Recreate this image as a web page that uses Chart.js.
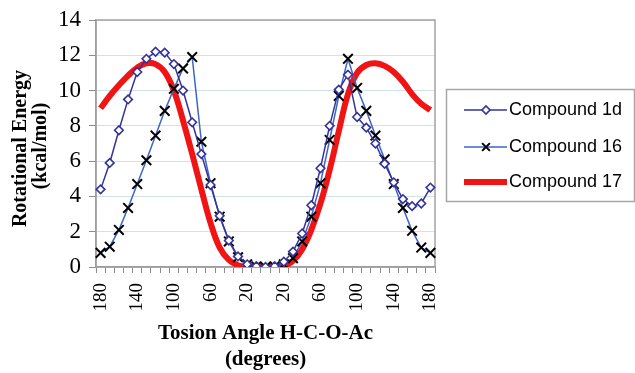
<!DOCTYPE html>
<html><head><meta charset="utf-8">
<script src="https://cdn.jsdelivr.net/npm/chart.js@4/dist/chart.umd.min.js"></script>
<style>html,body{margin:0;padding:0;background:#fff;overflow:hidden}canvas{display:block}</style>
</head><body>
<canvas id="c" width="635" height="373"></canvas>
<script>
// ---- data ----
const angles = [180,170,160,150,140,130,120,110,100,90,80,70,60,50,40,30,20,10,0,10,20,30,40,50,60,70,80,90,100,110,120,130,140,150,160,170,180];
const tickLabels = ['180','140','100','60','20','20','60','100','140','180'];
const tickEvery = 4;
const seriesNames = ['Compound 1d','Compound 16','Compound 17'];
const compound1d = [4.4,5.9,7.75,9.5,11.05,11.8,12.2,12.15,11.5,10.0,8.2,6.4,4.65,2.9,1.5,0.6,0.15,0.05,0.0,0.05,0.3,0.87,1.9,3.5,5.6,8.0,10.05,10.9,8.5,7.9,7.0,5.85,4.8,3.85,3.45,3.6,4.5];
const compound16 = [0.8,1.15,2.1,3.35,4.7,6.05,7.45,8.85,10.1,11.25,11.9,7.1,4.75,2.85,1.45,0.55,0.15,0.03,0.0,0.03,0.15,0.5,1.45,2.85,4.75,7.2,9.7,11.8,10.15,8.85,7.45,6.1,4.7,3.35,2.05,1.1,0.8];
const compound17 = [9.0,9.7,10.3,10.85,11.3,11.55,11.5,11.05,10.0,8.3,6.4,4.4,2.5,1.1,0.4,0.1,0.0,0.0,0.0,0.0,0.05,0.35,1.0,2.1,3.6,5.5,7.7,9.8,11.0,11.45,11.55,11.4,11.05,10.5,9.8,9.25,8.9];
const yMin = 0, yMax = 14, yStep = 2;

const serif = '"Liberation Serif","Times New Roman",serif';
const sans = '"Liberation Sans",Arial,sans-serif';

const framePlugin = {
  id: 'frame',
  beforeDatasetsDraw(chart) {
    const {ctx, chartArea: a} = chart;
    ctx.save();
    ctx.strokeStyle = '#a3a3a3';
    ctx.lineWidth = 1.5;
    ctx.strokeRect(a.left, a.top, a.right - a.left, a.bottom - a.top);
    ctx.restore();
  }
};

function marker(ctx, style, x, y, r, color, lw, fill) {
  ctx.save();
  ctx.beginPath();
  ctx.lineWidth = lw; ctx.strokeStyle = color;
  if (style === 'rectRot') {
    ctx.moveTo(x - r, y); ctx.lineTo(x, y - r); ctx.lineTo(x + r, y); ctx.lineTo(x, y + r); ctx.closePath();
    ctx.fillStyle = fill; ctx.fill(); ctx.stroke();
  } else if (style === 'crossRot') {
    const d = r * Math.SQRT1_2;
    ctx.moveTo(x - d, y - d); ctx.lineTo(x + d, y + d);
    ctx.moveTo(x + d, y - d); ctx.lineTo(x - d, y + d);
    ctx.stroke();
  }
  ctx.restore();
}

const legendPlugin = {
  id: 'boxLegend',
  afterDraw(chart) {
    const ctx = chart.ctx;
    ctx.save();
    ctx.strokeStyle = '#a8a8a8'; ctx.lineWidth = 1.5;
    ctx.strokeRect(446.5, 89.5, 188, 112);
    const rows = [110, 147, 182];
    chart.data.datasets.forEach((ds, i) => {
      const y = rows[i];
      ctx.beginPath();
      ctx.strokeStyle = ds.borderColor; ctx.lineWidth = ds.borderWidth; ctx.lineCap = 'butt';
      ctx.moveTo(464, y); ctx.lineTo(507, y); ctx.stroke();
      if (ds.pointRadius > 0) {
        marker(ctx, ds.pointStyle, 486, y, ds.pointStyle === 'crossRot' ? 5.5 : 4, ds.pointBorderColor, ds.pointBorderWidth, ds.pointBackgroundColor);
      }
      ctx.fillStyle = '#000';
      ctx.font = '18px ' + sans;
      ctx.textBaseline = 'middle'; ctx.textAlign = 'left';
      ctx.fillText(ds.label, 509, y);
    });
    ctx.restore();
  }
};

new Chart(document.getElementById('c'), {
  type: 'line',
  data: {
    labels: angles.map(String),
    datasets: [
      { label: seriesNames[0], data: compound1d, borderColor: '#33339a', borderWidth: 1.5,
        pointStyle: 'rectRot', pointRadius: 4.3, pointBackgroundColor: '#ffffff', pointBorderColor: '#33339a', pointBorderWidth: 1.6, tension: 0 },
      { label: seriesNames[1], data: compound16, borderColor: '#3d64c8', borderWidth: 1.5,
        pointStyle: 'crossRot', pointRadius: 6.8, pointBorderColor: '#000000', pointBackgroundColor: '#000000', pointBorderWidth: 2, tension: 0 },
      { label: seriesNames[2], data: compound17, borderColor: '#f01414', borderWidth: 6,
        pointRadius: 0, tension: 0.4 }
    ]
  },
  options: {
    responsive: false, animation: false, devicePixelRatio: 1,
    layout: { padding: { top: 20, right: 200, bottom: 0, left: 0 } },
    plugins: { legend: { display: false }, tooltip: { enabled: false } },
    scales: {
      x: {
        type: 'category', offset: true,
        grid: { offset: true, drawOnChartArea: false, drawTicks: true, tickLength: 6, tickColor: '#8c8c8c', tickWidth: 1 },
        border: { color: '#8c8c8c', width: 1.5 },
        ticks: { autoSkip: false, minRotation: 90, maxRotation: 90, padding: 10, color: '#000',
          font: { family: serif, size: 19 },
          callback: (v, i) => (i % tickEvery === 0 ? tickLabels[i / tickEvery] : '') },
        title: { display: true, text: ['Tosion Angle H-C-O-Ac', '(degrees)'], color: '#000',
          font: { family: serif, size: 21, weight: 'bold', lineHeight: 1.24 }, padding: { top: 0, bottom: 0 } },
        afterFit(s) { s.height = 106; s.paddingLeft = 0; s.paddingRight = 0; }
      },
      y: {
        min: yMin, max: yMax,
        ticks: { stepSize: yStep, padding: 8, color: '#000', font: { family: serif, size: 23 } },
        grid: { color: '#d3e2ea', lineWidth: 1, tickLength: 7, tickColor: '#8c8c8c' },
        border: { color: '#8c8c8c', width: 1.5 },
        title: { display: true, text: ['Rotational Energy  ', '(kcal/mol) '], color: '#000',
          font: { family: serif, size: 20, weight: 'bold', lineHeight: 1.0 }, padding: { top: 11, bottom: 0 } },
        afterFit(s) { s.width = 96; s.paddingTop = 0; s.paddingBottom = 0; }
      }
    }
  },
  plugins: [framePlugin, legendPlugin]
});
</script>
</body></html>
